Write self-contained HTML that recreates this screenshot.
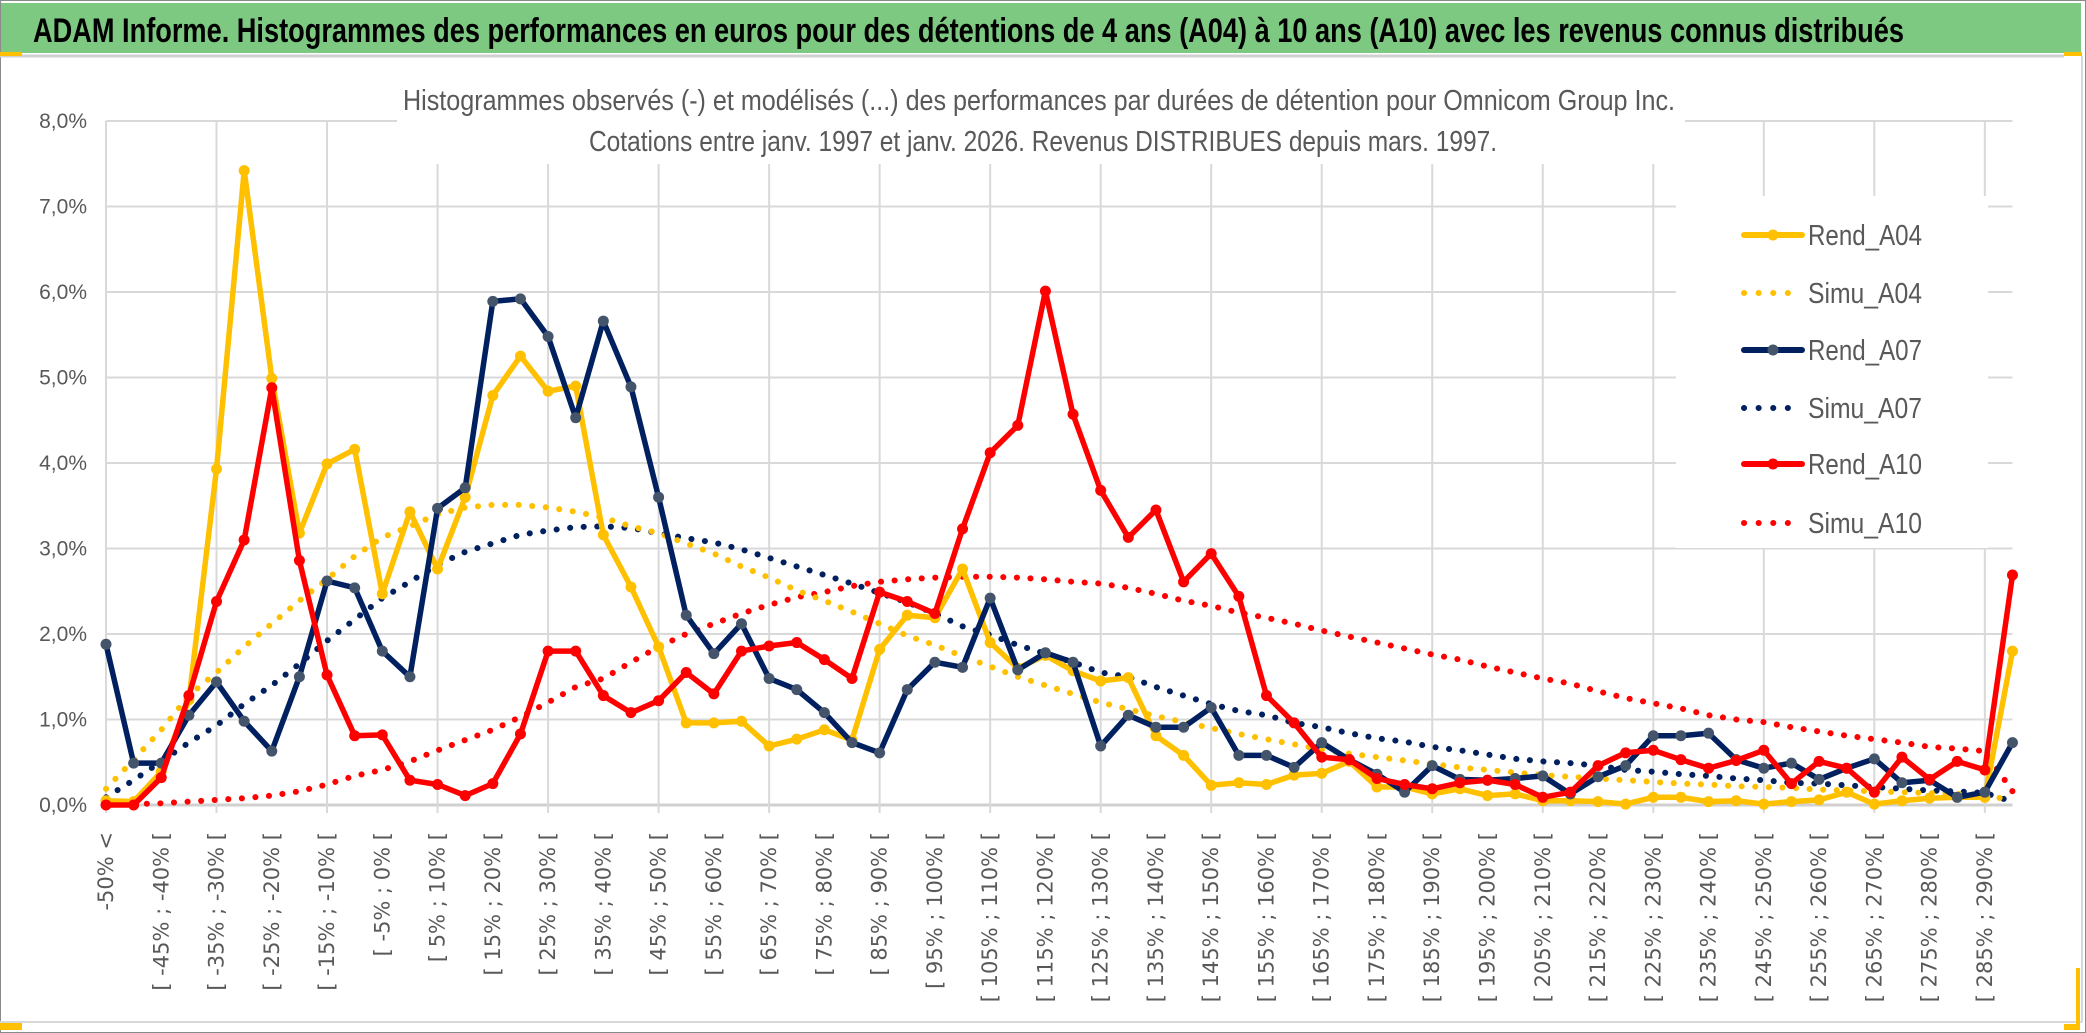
<!DOCTYPE html>
<html><head><meta charset="utf-8"><style>
html,body{margin:0;padding:0;background:#fff}
svg{display:block}
</style></head><body>
<svg id="chart" width="2086" height="1033" viewBox="0 0 2086 1033" xmlns="http://www.w3.org/2000/svg">
<rect x="0" y="0" width="2086" height="1033" fill="#fff"/>
<rect x="0.5" y="0.5" width="2085" height="1032" fill="none" stroke="#8a8a8a" stroke-width="1"/>
<rect x="1" y="3" width="2080" height="50" fill="#7ec982"/>
<line x1="0" y1="56" x2="2064" y2="56" stroke="#d0d0d0" stroke-width="3"/>
<rect x="0" y="52" width="22" height="4" fill="#ffc000"/>
<rect x="2064" y="52" width="18" height="4" fill="#ffc000"/>
<line x1="2082" y1="56" x2="2082" y2="1022" stroke="#d8d8d8" stroke-width="2"/>
<line x1="0" y1="1022" x2="2082" y2="1022" stroke="#d8d8d8" stroke-width="2"/>
<rect x="0" y="1023" width="22" height="7" fill="#ffc000"/>
<path d="M2064 968 H2080 V1030 H2064 V1024 H2076 V968 Z" fill="#ffc000"/>
<text x="33" y="42" font-family="Liberation Sans Narrow, Liberation Sans, sans-serif" font-weight="bold" font-size="34" fill="#000" textLength="1871" lengthAdjust="spacingAndGlyphs">ADAM Informe. Histogrammes des performances en euros pour des détentions de 4 ans (A04) à 10 ans (A10) avec les revenus connus distribués</text>
<g id="grid"></g>
<rect x="397" y="78" width="1288" height="86" fill="#fff"/>
<text x="403" y="110" font-family="Liberation Sans Narrow, Liberation Sans, sans-serif" font-size="29" fill="#595959" textLength="1272" lengthAdjust="spacingAndGlyphs">Histogrammes observés (-) et modélisés (...) des performances par durées de détention pour Omnicom Group Inc.</text>
<text x="589" y="151" font-family="Liberation Sans Narrow, Liberation Sans, sans-serif" font-size="29" fill="#595959" textLength="908" lengthAdjust="spacingAndGlyphs">Cotations entre janv. 1997 et janv. 2026. Revenus DISTRIBUES depuis mars. 1997.</text>
<g id="yticks"></g>
<g id="xticks"></g>
<g id="series"></g>
<g id="legend"></g>
</svg>
<script>
const categoriesCount = 70;
const yTicks = [0,1,2,3,4,5,6,7,8];
const yTickLabels = ["0,0%","1,0%","2,0%","3,0%","4,0%","5,0%","6,0%","7,0%","8,0%"];
const rendA04 = [0.05,0.04,0.39,1.23,3.93,7.42,4.99,3.18,3.99,4.16,2.47,3.43,2.76,3.6,4.79,5.25,4.84,4.9,3.16,2.55,1.85,0.96,0.96,0.98,0.69,0.77,0.88,0.76,1.82,2.22,2.19,2.76,1.9,1.6,1.75,1.57,1.45,1.49,0.81,0.58,0.23,0.26,0.24,0.35,0.37,0.51,0.21,0.21,0.13,0.19,0.11,0.13,0.05,0.05,0.04,0.01,0.09,0.09,0.04,0.05,0.01,0.04,0.06,0.15,0.01,0.05,0.08,0.09,0.09,1.8];
const simuA04 = [0.19,0.53,0.88,1.28,1.55,1.85,2.12,2.39,2.64,2.91,3.13,3.26,3.4,3.48,3.51,3.51,3.48,3.43,3.36,3.26,3.18,3.06,2.94,2.79,2.66,2.51,2.39,2.26,2.12,1.98,1.87,1.74,1.62,1.5,1.4,1.3,1.2,1.12,1.04,0.97,0.9,0.83,0.77,0.71,0.65,0.6,0.56,0.52,0.48,0.44,0.41,0.38,0.35,0.33,0.31,0.29,0.27,0.25,0.24,0.22,0.21,0.2,0.18,0.17,0.16,0.15,0.14,0.13,0.12,0.05];
const rendA07 = [1.88,0.49,0.49,1.05,1.44,0.98,0.63,1.5,2.62,2.54,1.8,1.5,3.47,3.71,5.89,5.92,5.48,4.53,5.66,4.89,3.6,2.22,1.77,2.12,1.48,1.35,1.08,0.73,0.61,1.35,1.67,1.61,2.42,1.58,1.78,1.67,0.69,1.05,0.91,0.91,1.14,0.58,0.58,0.44,0.73,0.53,0.36,0.15,0.46,0.3,0.29,0.31,0.34,0.13,0.33,0.46,0.81,0.81,0.84,0.53,0.43,0.49,0.3,0.43,0.54,0.26,0.29,0.09,0.15,0.73];
const simuA07 = [0.09,0.29,0.51,0.73,0.93,1.18,1.4,1.65,1.92,2.17,2.42,2.61,2.81,2.96,3.06,3.16,3.21,3.25,3.26,3.24,3.18,3.12,3.07,2.99,2.89,2.79,2.69,2.59,2.48,2.37,2.24,2.09,1.99,1.87,1.77,1.67,1.55,1.5,1.38,1.28,1.18,1.1,1.05,0.96,0.91,0.84,0.78,0.74,0.68,0.64,0.59,0.54,0.51,0.49,0.46,0.41,0.39,0.36,0.34,0.31,0.29,0.26,0.25,0.23,0.21,0.19,0.17,0.16,0.14,0.04];
const rendA10 = [0,0,0.32,1.28,2.38,3.1,4.88,2.86,1.52,0.81,0.82,0.29,0.24,0.11,0.25,0.83,1.8,1.8,1.28,1.08,1.22,1.55,1.3,1.8,1.86,1.9,1.7,1.48,2.49,2.38,2.24,3.23,4.12,4.44,6.01,4.57,3.68,3.13,3.45,2.61,2.94,2.44,1.28,0.96,0.56,0.53,0.31,0.24,0.19,0.26,0.29,0.24,0.09,0.15,0.46,0.61,0.64,0.53,0.43,0.52,0.64,0.25,0.51,0.43,0.15,0.56,0.3,0.51,0.41,2.69];
const simuA10 = [0,0.01,0.02,0.04,0.06,0.08,0.11,0.16,0.24,0.34,0.41,0.51,0.64,0.76,0.88,1.03,1.2,1.38,1.48,1.67,1.85,2.0,2.12,2.24,2.34,2.43,2.49,2.56,2.61,2.64,2.66,2.67,2.67,2.66,2.64,2.61,2.59,2.54,2.47,2.39,2.33,2.25,2.19,2.12,2.04,1.97,1.9,1.83,1.76,1.7,1.62,1.55,1.48,1.42,1.33,1.25,1.19,1.13,1.05,1.0,0.97,0.91,0.86,0.81,0.77,0.73,0.68,0.66,0.63,0.16];
const legendLabels = ["Rend_A04","Simu_A04","Rend_A07","Simu_A07","Rend_A10","Simu_A10"];

const NS = "http://www.w3.org/2000/svg";
const X0 = 106, STEP = 27.63, Y0 = 805, PER = 85.5;
function xs(i){ return X0 + STEP*i; }
function ys(v){ return Y0 - PER*v; }
function mk(tag, attrs, parent){
  const e = document.createElementNS(NS, tag);
  for (const k in attrs) e.setAttribute(k, attrs[k]);
  parent.appendChild(e);
  return e;
}
function catLabel(i){
  if (i === 0) return "-50% <";
  const lo = -50 + 5*(i-1);
  return "[ " + lo + "% ; " + (lo+5) + "% [";
}
const grid = document.getElementById('grid');
yTicks.forEach(function(t){
  const l = mk('line', {x1:X0, x2:xs(69), y1:ys(t), y2:ys(t), stroke: t===0 ? '#d0d0d0' : '#d9d9d9', 'stroke-width': t===0 ? 3 : 2}, grid);
  
  
});
for (let i = 0; i <= 68; i += 4){
  const l = mk('line', {x1:xs(i), x2:xs(i), y1:ys(8), y2:Y0+8, stroke:'#d9d9d9', 'stroke-width':2}, grid);
  
  
}
const yt = document.getElementById('yticks');
yTicks.forEach(function(t, k){
  const tx = mk('text', {x:87, y:ys(t)+7, 'text-anchor':'end', 'font-family':'Liberation Sans Narrow, Liberation Sans, sans-serif', 'font-size':21, fill:'#595959'}, yt);
  tx.textContent = yTickLabels[k];
  
  
});
const xt = document.getElementById('xticks');
for (let i = 0; i < categoriesCount; i += 2){
  const cx = xs(i) + 7, cy = 832;
  const tx = mk('text', {x:cx, y:cy, 'text-anchor':'end', transform:'rotate(-90 '+cx+' '+cy+')', 'font-family':'DejaVu Sans, sans-serif', 'font-size':21, fill:'#595959'}, xt);
  tx.textContent = catLabel(i);
  
  
}
const sg = document.getElementById('series');
function pts(arr){ return arr.map(function(v,i){ return xs(i).toFixed(1)+','+ys(v).toFixed(1); }).join(' '); }
function dotted(arr, color, name){
  const p = mk('polyline', {points:pts(arr), fill:'none', stroke:color, 'stroke-width':6, 'stroke-linecap':'round', 'stroke-dasharray':'0.1 13.5'}, sg);
  
  
}
function solid(arr, color, mcolor, name){
  const g = mk('g', {}, sg);
  
  
  const p = mk('polyline', {points:pts(arr), fill:'none', stroke:color, 'stroke-width':5.5, 'stroke-linejoin':'round'}, g);
  
  
  arr.forEach(function(v,i){
    const c = mk('circle', {cx:xs(i), cy:ys(v), r:5.5, fill:mcolor}, g);
    
    
  });
}
dotted(simuA10, '#ff0000', 'simu-a10-line');
dotted(simuA07, '#002060', 'simu-a07-line');
dotted(simuA04, '#ffc000', 'simu-a04-line');
solid(rendA04, '#ffc000', '#ffc000', 'rend-a04');
solid(rendA07, '#002060', '#44546a', 'rend-a07');
solid(rendA10, '#ff0000', '#ff0000', 'rend-a10');

const lg = document.getElementById('legend');
const bg = mk('rect', {x:1676, y:196, width:312, height:352, fill:'#fff'}, lg);


const rows = [235,293,350,408,464,523];
const lcol = ['#ffc000','#ffc000','#002060','#002060','#ff0000','#ff0000'];
const lmk = ['#ffc000',null,'#44546a',null,'#ff0000',null];
legendLabels.forEach(function(lab, k){
  const g = mk('g', {}, lg);
  
  
  const y = rows[k];
  if (lmk[k]){
    mk('line', {x1:1744, x2:1802, y1:y, y2:y, stroke:lcol[k], 'stroke-width':6, 'stroke-linecap':'round'}, g);
    mk('circle', {cx:1773, cy:y, r:5.5, fill:lmk[k]}, g);
  } else {
    mk('line', {x1:1744, x2:1802, y1:y, y2:y, stroke:lcol[k], 'stroke-width':6, 'stroke-linecap':'round', 'stroke-dasharray':'0.1 14.5'}, g);
  }
  const t = mk('text', {x:1808, y:y+10, 'font-family':'Liberation Sans Narrow, Liberation Sans, sans-serif', 'font-size':29, fill:'#595959', textLength:114, lengthAdjust:'spacingAndGlyphs'}, g);
  t.textContent = lab;
});
</script>
</body></html>
